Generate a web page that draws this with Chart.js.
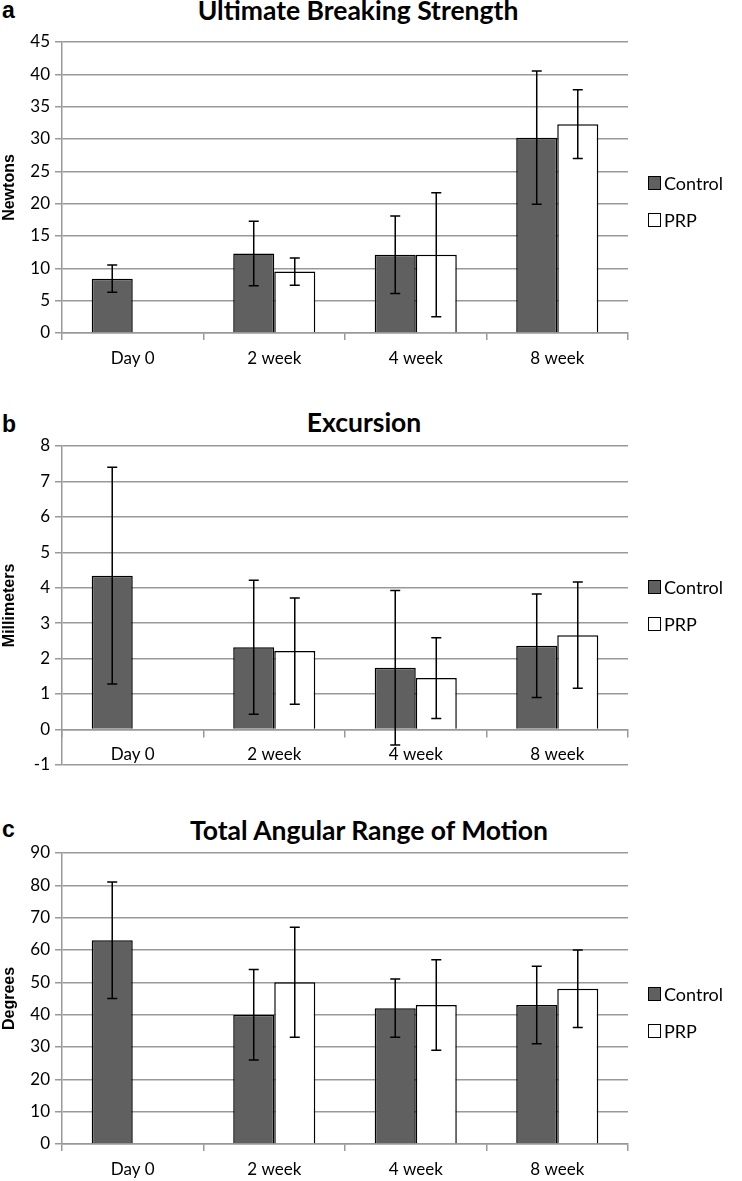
<!DOCTYPE html>
<html>
<head>
<meta charset="utf-8">
<script src="https://cdn.jsdelivr.net/npm/chart.js@4.4.1/dist/chart.umd.min.js"></script>
<style>
	body { margin: 0; background: #fff; }
	#page { position: relative; width: 742px; height: 1181px; overflow: hidden; }
	.panel { position: absolute; left: 0; width: 742px; }
	.letter { position: absolute; left: 2px; font: bold 23px "Liberation Sans", Arial, sans-serif; line-height: 22px; }
	.title { position: absolute; font: bold 26.5px Lato, sans-serif; line-height: 25px; white-space: nowrap; transform: translateX(-50%); }
	.legend { position: absolute; left: 648px; font: 18px Lato, sans-serif; color: #000; }
	.legend .item { display: flex; align-items: center; height: 20px; margin-bottom: 17px; }
	.legend .box { width: 11px; height: 12px; border: 1px solid #000; margin-right: 3px; }
</style>
</head>
<body>
<div id="page">
	<div class="letter" style="top:-1px">a</div>
	<div class="title" style="left:358px;top:-2px">Ultimate Breaking Strength</div>
	<div class="panel" style="top:0;height:380px"><canvas id="strength"></canvas></div>
	<div class="legend" id="legendA" style="top:173px"></div>

	<div class="letter" style="top:413px">b</div>
	<div class="title" style="left:364px;top:410px">Excursion</div>
	<div class="panel" style="top:400px;height:380px"><canvas id="excursion"></canvas></div>
	<div class="legend" id="legendB" style="top:577px"></div>

	<div class="letter" style="top:818px">c</div>
	<div class="title" style="left:369px;top:818px">Total Angular Range of Motion</div>
	<div class="panel" style="top:800px;height:381px"><canvas id="motion"></canvas></div>
	<div class="legend" id="legendC" style="top:984px"></div>
</div>
<script>
	var categories = ["Day 0", "2 week", "4 week", "8 week"];
	var seriesNames = ["Control", "PRP"];

	// a: ultimate breaking strength (N), mean and SD
	var strengthControl = [8.4, 12.3, 12.1, 30.2];
	var strengthControlSd = [2.1, 5.0, 6.0, 10.3];
	var strengthPRP = [null, 9.5, 12.1, 32.3];
	var strengthPRPSd = [null, 2.1, 9.6, 5.3];

	// b: excursion (mm)
	var excursionControl = [4.34, 2.32, 1.74, 2.36];
	var excursionControlSd = [3.06, 1.89, 2.18, 1.46];
	var excursionPRP = [null, 2.21, 1.45, 2.66];
	var excursionPRPSd = [null, 1.50, 1.14, 1.50];

	// c: total angular range of motion (degrees)
	var motionControl = [63, 40, 42, 43];
	var motionControlSd = [18, 14, 9, 12];
	var motionPRP = [null, 50, 43, 48];
	var motionPRPSd = [null, 17, 14, 12];

	var gridGray = '#999';
	var tickFont = { family: 'Lato', size: 17 };

	var errorBars = {
		id: 'errorBars',
		afterDatasetsDraw: function (chart) {
			var ctx = chart.ctx;
			var y = chart.scales.y;
			ctx.save();
			ctx.strokeStyle = '#000';
			ctx.lineWidth = 1.5;
			chart.data.datasets.forEach(function (ds, i) {
				var meta = chart.getDatasetMeta(i);
				meta.data.forEach(function (bar, j) {
					var v = ds.data[j], e = ds.sd[j];
					if (v == null || e == null) return;
					var top = y.getPixelForValue(v + e);
					var bot = y.getPixelForValue(v - e);
					ctx.beginPath();
					ctx.moveTo(bar.x, top); ctx.lineTo(bar.x, bot);
					ctx.moveTo(bar.x - 5, top); ctx.lineTo(bar.x + 5, top);
					ctx.moveTo(bar.x - 5, bot); ctx.lineTo(bar.x + 5, bot);
					ctx.stroke();
				});
			});
			ctx.restore();
		}
	};

	function makePanel(id, legendId, o) {
		var chart = new Chart(document.getElementById(id), {
			type: 'bar',
			data: {
				labels: categories,
				datasets: [
					{ label: seriesNames[0], data: o.control, sd: o.controlSd, backgroundColor: '#606060', borderColor: '#000', borderWidth: 1.5 },
					{ label: seriesNames[1], data: o.prp, sd: o.prpSd, backgroundColor: '#fff', borderColor: '#000', borderWidth: 1.5 }
				]
			},
			options: {
				responsive: true,
				maintainAspectRatio: false,
				animation: false,
				categoryPercentage: 0.58,
				barPercentage: 1.0,
				layout: { padding: { top: o.padTop, right: 114, bottom: o.padBottom, left: 0 } },
				plugins: { legend: { display: false }, tooltip: { enabled: false } },
				scales: {
					x: {
						position: o.xAtZero ? { y: 0 } : 'bottom',
						grid: { offset: true, drawOnChartArea: false, color: gridGray, lineWidth: 1.5, tickLength: 7 },
						border: { color: gridGray, width: 1.5 },
						ticks: { color: '#000', font: tickFont, padding: 8, maxRotation: 0 },
						afterFit: function (s) { if (o.xHeight) s.height = o.xHeight; }
					},
					y: {
						min: o.min,
						max: o.max,
						ticks: { stepSize: o.step, color: '#000', font: tickFont, padding: 5 },
						grid: { color: gridGray, lineWidth: 1.5, tickLength: 7 },
						border: { color: gridGray, width: 1.5 },
						title: { display: true, text: o.yTitle, color: '#000', padding: 0,
							font: { family: 'Liberation Sans', weight: 'bold', size: 16 } },
						afterFit: function (s) { s.width = 62; }
					}
				}
			},
			plugins: [errorBars]
		});

		var legend = document.getElementById(legendId);
		chart.data.datasets.forEach(function (ds) {
			var item = document.createElement('div');
			item.className = 'item';
			var box = document.createElement('span');
			box.className = 'box';
			box.style.background = ds.backgroundColor;
			item.appendChild(box);
			item.appendChild(document.createTextNode(ds.label));
			legend.appendChild(item);
		});
		return chart;
	}

	makePanel('strength', 'legendA', {
		control: strengthControl, controlSd: strengthControlSd,
		prp: strengthPRP, prpSd: strengthPRPSd,
		min: 0, max: 45, step: 5, yTitle: 'Newtons',
		padTop: 42, padBottom: 0, xHeight: 47
	});

	makePanel('excursion', 'legendB', {
		control: excursionControl, controlSd: excursionControlSd,
		prp: excursionPRP, prpSd: excursionPRPSd,
		min: -1, max: 8, step: 1, yTitle: 'Millimeters',
		padTop: 46, padBottom: 14, xAtZero: true
	});

	makePanel('motion', 'legendC', {
		control: motionControl, controlSd: motionControlSd,
		prp: motionPRP, prpSd: motionPRPSd,
		min: 0, max: 90, step: 10, yTitle: 'Degrees',
		padTop: 53, padBottom: 0, xHeight: 37
	});
</script>
</body>
</html>
